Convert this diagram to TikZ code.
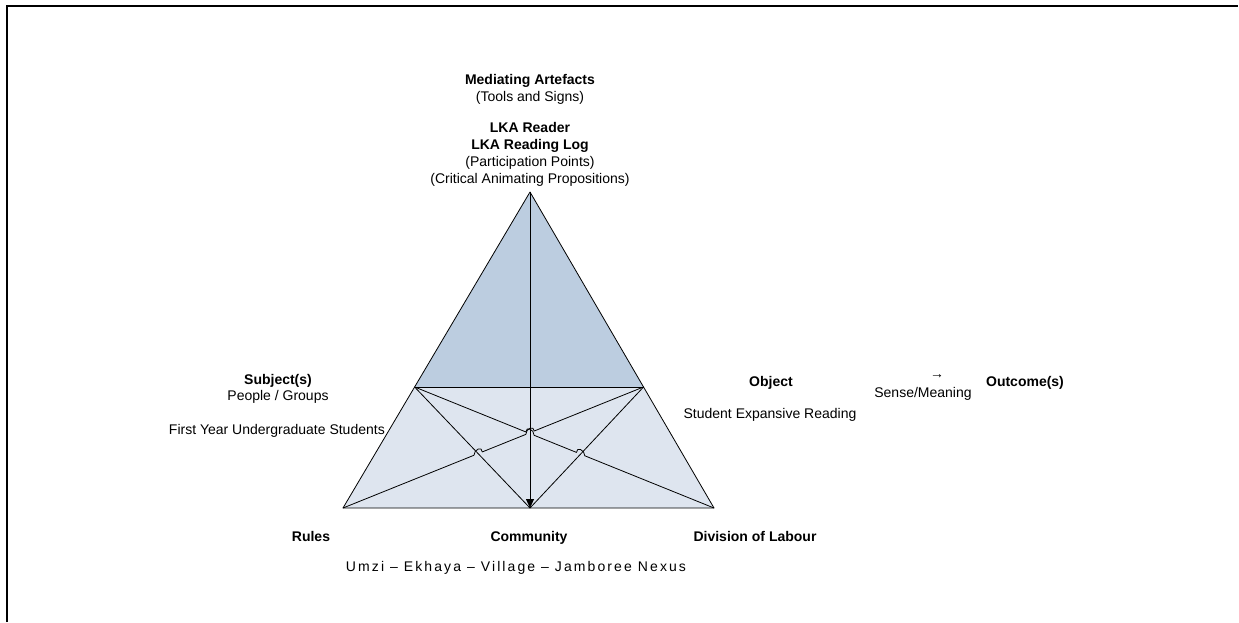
\documentclass[tikz,border=0pt]{standalone}
\usepackage{fontspec}
\setmainfont{Liberation Sans}
\newfontfamily\trackedfont[LetterSpace=15]{Liberation Sans}
\usetikzlibrary{calc,arrows.meta,intersections}
\definecolor{toptri}{HTML}{BCCDE0}
\definecolor{lowband}{HTML}{DEE5EF}
\begin{document}
\begin{tikzpicture}[x=1pt,y=-1pt,
  lbl/.style={inner sep=0pt,anchor=base,font=\fontsize{14}{17}\selectfont},
  bold/.style={lbl,font=\fontsize{14}{17}\selectfont\bfseries},
  edge/.style={line width=0.8pt,line join=round}]
\useasboundingbox (0,0) rectangle (1239,622);
% frame on the top and left
\draw[line width=2pt] (7,622) -- (7,5.5) -- (1238,5.5);

% triangle corners
\coordinate (apex) at (530,192);
\coordinate (bl) at (343,508);
\coordinate (br) at (714,508);
\coordinate (ul) at ($(apex)!0.617!(bl)$);
\coordinate (ur) at ($(apex)!0.617!(br)$);
\coordinate (bc) at (apex |- bl);

% fills
\fill[lowband] (ul) -- (ur) -- (br) -- (bl) -- cycle;
\fill[toptri] (apex) -- (ur) -- (ul) -- cycle;

% outline and inner lines
\draw[edge] (apex) -- (bl) -- (br) -- cycle;
\draw[edge] (ul) -- (ur);
\draw[edge,name path=leftin] (ul) -- (bc);
\draw[edge,name path=rightin] (ur) -- (bc);
\draw[edge,name path=vert,-{Triangle[length=9pt,width=8pt]}] (apex) -- (bc);

% long diagonals and their crossings
\path[name path=diagA] (ul) -- (br);
\path[name path=diagB] (ur) -- (bl);
\path[name intersections={of=diagA and vert,by=xa}];
\path[name intersections={of=diagA and rightin,by=xb}];
\path[name intersections={of=diagB and vert,by=xc}];
\path[name intersections={of=diagB and leftin,by=xd}];

\draw[edge] (ul) -- ($(xa)!4.5pt!(ul)$) .. controls +(0,-6) and +(0,-6) .. ($(xa)!4.5pt!(br)$)
  -- ($(xb)!4.5pt!(ul)$) .. controls +(0,-6) and +(0,-6) .. ($(xb)!4.5pt!(br)$) -- (br);
\draw[edge] (ur) -- ($(xc)!4.5pt!(ur)$) .. controls +(0,-6) and +(0,-6) .. ($(xc)!4.5pt!(bl)$)
  -- ($(xd)!4.5pt!(ur)$) .. controls +(0,-6) and +(0,-6) .. ($(xd)!4.5pt!(bl)$) -- (bl);

% labels: mediating artefacts
\node[bold] (medart) at (530,84) {Mediating Artefacts};
\node[lbl] (tools) at (530,101) {(Tools and Signs)};
\node[bold] (reader) at (530,132) {LKA Reader};
\node[bold] (readlog) at (530,149) {LKA Reading Log};
\node[lbl] (points) at (530,166) {(Participation Points)};
\node[lbl] (props) at (530,183) {(Critical Animating Propositions)};

% subject
\node[bold] (subject) at (278,384) {Subject(s)};
\node[lbl] (people) at (278,400) {People / Groups};
\node[lbl,anchor=base east] (students) at (385,434) {First Year Undergraduate Students};

% object and outcome
\node[bold] (object) at (771,386) {Object};
\node[lbl] (expansive) at (770,418) {Student Expansive Reading};
\node[lbl] (toward) at (937,378) {→};
\node[lbl] (sense) at (923,397) {Sense/Meaning};
\node[bold] (outcome) at (1025,386) {Outcome(s)};

% base corners
\node[bold] (rules) at (311,541) {Rules};
\node[bold] (community) at (529,541) {Community};
\node[bold] (labour) at (755,541) {Division of Labour};
\node[lbl,font=\fontsize{14}{17}\trackedfont] (nexus) at (516,571) {Umzi – Ekhaya – Village – Jamboree Nexus};
\end{tikzpicture}
\end{document}
